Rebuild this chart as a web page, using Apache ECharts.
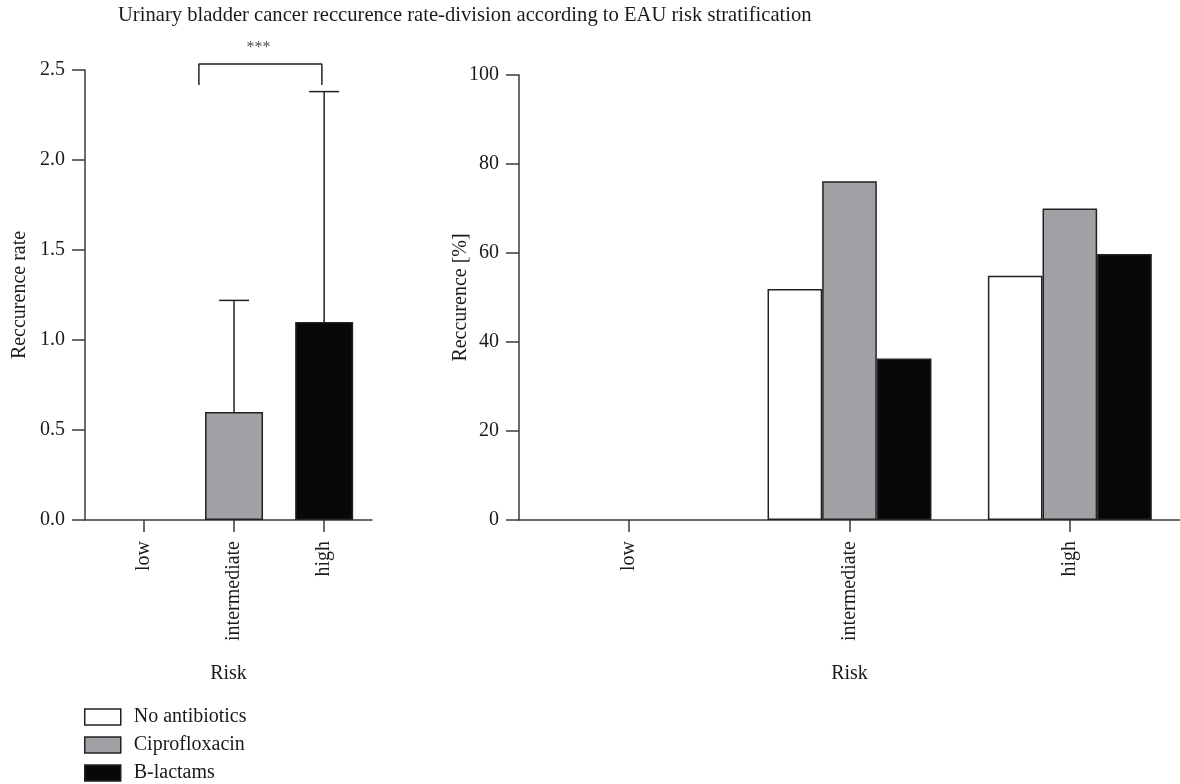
<!DOCTYPE html>
<html>
<head>
<meta charset="utf-8">
<script src="https://cdn.jsdelivr.net/npm/echarts@6/dist/echarts.min.js"></script>
<style>
html,body{margin:0;padding:0;background:#fff;}
#chart{width:1180px;height:784px;}
</style>
</head>
<body>
<div id="chart"></div>
<script>
// ---- data ----
var categories = ['low', 'intermediate', 'high'];
var seriesNames = ['No antibiotics', 'Ciprofloxacin', 'B-lactams'];
// left: recurrence rate (mean) and upper error-bar end
var rateMean = [0, 0.60, 1.10];
var rateUpper = [0, 1.22, 2.38];
// right: recurrence [%]
var noAntibiotics = [0, 51.9, 54.9];
var ciprofloxacin = [0, 76.1, 70.0];
var bLactams = [0, 36.3, 59.8];
// significance bracket (between intermediate and high)
var bracketX = [0.61, 1.975];
var bracketY = [2.417, 2.533];
var sigText = '***';

var FONT = 'Liberation Serif';
var FS = 20;
var TXT = '#1a1a1a';
var AX = '#3a3a3a';
var BORDER = '#222';
var colors = ['#ffffff', '#a1a0a5', '#080808'];

var chart = echarts.init(document.getElementById('chart'));

function styledData(vals, color) {
  return vals.map(function (v) {
    return { value: v, itemStyle: { color: color, borderColor: BORDER, borderWidth: v === 0 ? 0 : 1.5 } };
  });
}

var leftBarData = categories.map(function (c, i) {
  return { value: [i, rateMean[i]], itemStyle: { color: colors[i], borderColor: BORDER, borderWidth: rateMean[i] === 0 ? 0 : 1.5 } };
});
var errData = categories.map(function (c, i) { return [i, rateMean[i], rateUpper[i]]; });

var axisLineStyle = { color: AX, width: 1.5 };
var labelStyle = { color: TXT, fontFamily: FONT, fontSize: FS };
var nameStyle = { color: TXT, fontFamily: FONT, fontSize: FS };

var legends = seriesNames.map(function (n, i) {
  return {
    data: [n],
    orient: 'vertical',
    left: 84, top: 707 + i * 28, padding: 0,
    itemWidth: 36, itemHeight: 16,
    icon: 'rect',
    selectedMode: false,
    itemStyle: { borderColor: BORDER, borderWidth: 1.5 },
    textStyle: { color: TXT, fontFamily: FONT, fontSize: FS, padding: [0, 0, 0, 8] }
  };
});

var option = {
  animation: false,
  title: {
    text: 'Urinary bladder cancer reccurence rate-division according to EAU risk stratification',
    left: 113, top: 0,
    textStyle: { color: TXT, fontFamily: FONT, fontSize: 20.6, fontWeight: 'normal' }
  },
  legend: legends,
  grid: [
    { left: 85, top: 70, width: 287, height: 450 },
    { left: 519, top: 75, width: 661, height: 445 }
  ],
  xAxis: [
    {
      gridIndex: 0, type: 'value', min: -0.654, max: 2.531,
      splitLine: { show: false },
      axisLine: { show: true, onZero: false, lineStyle: axisLineStyle },
      axisTick: { show: true, length: 12, lineStyle: axisLineStyle, customValues: [0, 1, 2] },
      axisLabel: Object.assign({ rotate: 90, margin: 21, customValues: [0, 1, 2],
        formatter: function (v) { return categories[Math.round(v)]; } }, labelStyle),
      name: 'Risk', nameLocation: 'middle', nameGap: 144, nameTextStyle: nameStyle
    },
    {
      gridIndex: 1, type: 'category', data: categories,
      axisLine: { show: true, lineStyle: axisLineStyle },
      axisTick: { show: true, length: 12, alignWithLabel: true, lineStyle: axisLineStyle },
      axisLabel: Object.assign({ rotate: 90, margin: 21 }, labelStyle),
      name: 'Risk', nameLocation: 'middle', nameGap: 144, nameTextStyle: nameStyle
    }
  ],
  yAxis: [
    {
      gridIndex: 0, type: 'value', min: 0, max: 2.5, interval: 0.5,
      splitLine: { show: false },
      axisLine: { show: true, onZero: false, lineStyle: axisLineStyle },
      axisTick: { show: true, length: 13, lineStyle: axisLineStyle },
      axisLabel: Object.assign({ margin: 20, formatter: function (v) { return v.toFixed(1); } }, labelStyle),
      name: 'Reccurence rate', nameLocation: 'middle', nameGap: 55, nameMoveOverlap: false,
      nameTextStyle: nameStyle
    },
    {
      gridIndex: 1, type: 'value', min: 0, max: 100, interval: 20,
      splitLine: { show: false },
      axisLine: { show: true, onZero: false, lineStyle: axisLineStyle },
      axisTick: { show: true, length: 13, lineStyle: axisLineStyle },
      axisLabel: Object.assign({ margin: 20 }, labelStyle),
      name: 'Reccurence [%]', nameLocation: 'middle', nameGap: 48, nameMoveOverlap: false,
      nameTextStyle: nameStyle
    }
  ],
  series: [
    {
      type: 'bar', name: 'Reccurence rate', xAxisIndex: 0, yAxisIndex: 0,
      barWidth: 58, data: leftBarData
    },
    {
      type: 'custom', name: 'error', xAxisIndex: 0, yAxisIndex: 0, z: 1,
      data: errData,
      renderItem: function (params, api) {
        if (api.value(2) <= api.value(1)) return null;
        var base = api.coord([api.value(0), api.value(1)]);
        var top = api.coord([api.value(0), api.value(2)]);
        var cap = 15;
        return {
          type: 'group',
          children: [
            { type: 'line', shape: { x1: base[0], y1: base[1], x2: top[0], y2: top[1] },
              style: { stroke: BORDER, lineWidth: 1.5 } },
            { type: 'line', shape: { x1: top[0] - cap, y1: top[1], x2: top[0] + cap, y2: top[1] },
              style: { stroke: BORDER, lineWidth: 1.5 } }
          ]
        };
      }
    },
    {
      type: 'line', name: 'bracket', xAxisIndex: 0, yAxisIndex: 0, clip: false,
      symbol: 'none', silent: true,
      lineStyle: { color: BORDER, width: 1.5 },
      data: [[bracketX[0], bracketY[0]], [bracketX[0], bracketY[1]], [bracketX[1], bracketY[1]], [bracketX[1], bracketY[0]]]
    },
    {
      type: 'scatter', name: 'sig', xAxisIndex: 0, yAxisIndex: 0, clip: false,
      symbolSize: 1, itemStyle: { color: 'rgba(0,0,0,0)' }, silent: true,
      data: [[(bracketX[0] + bracketX[1]) / 2 - 0.02, bracketY[1]]],
      label: { show: true, position: 'top', distance: 8, formatter: sigText,
        color: TXT, fontFamily: FONT, fontSize: 16 }
    },
    {
      type: 'bar', name: seriesNames[0], xAxisIndex: 1, yAxisIndex: 1,
      data: styledData(noAntibiotics, colors[0]), barGap: '0%', barCategoryGap: '25.6%',
      itemStyle: { color: colors[0], borderColor: BORDER, borderWidth: 1.5 }
    },
    {
      type: 'bar', name: seriesNames[1], xAxisIndex: 1, yAxisIndex: 1,
      data: styledData(ciprofloxacin, colors[1]), barGap: '0%', barCategoryGap: '25.6%',
      itemStyle: { color: colors[1], borderColor: BORDER, borderWidth: 1.5 }
    },
    {
      type: 'bar', name: seriesNames[2], xAxisIndex: 1, yAxisIndex: 1,
      data: styledData(bLactams, colors[2]), barGap: '0%', barCategoryGap: '25.6%',
      itemStyle: { color: colors[2], borderColor: BORDER, borderWidth: 1.5 }
    }
  ]
};
chart.setOption(option);
</script>
</body>
</html>
